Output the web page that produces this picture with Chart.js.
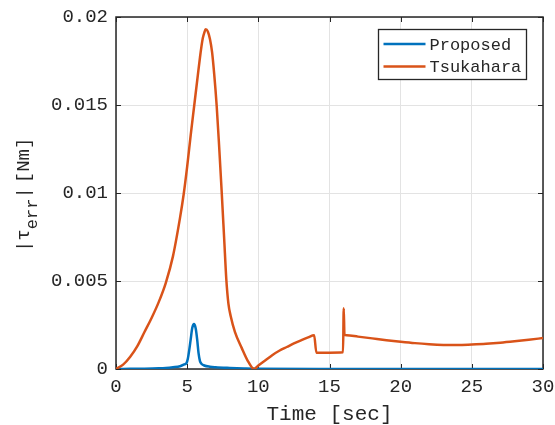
<!DOCTYPE html>
<html>
<head>
<meta charset="utf-8">
<script src="https://cdn.jsdelivr.net/npm/chart.js@4/dist/chart.umd.min.js"></script>
<style>
  html, body { margin: 0; padding: 0; background: #ffffff; }
  #wrap { width: 555px; height: 425px; }
</style>
</head>
<body>
<div id="wrap"><canvas id="chart" width="555" height="425"></canvas></div>
<script>
// Torque error of the two estimators over time
const seriesNames = ['Proposed', 'Tsukahara'];

const timeProposed = [0, 1, 2, 3, 3.5, 4, 4.5, 4.85, 4.95, 5.05, 5.15, 5.25, 5.35, 5.48, 5.6, 5.7, 5.8, 5.9, 6.0, 6.2, 6.6, 7, 8, 9, 10, 15, 20, 25, 30];
const proposed = [0, 0.00001, 0.00002, 0.00004, 0.00006, 0.0001, 0.00016, 0.00028, 0.00033, 0.0006, 0.0011, 0.0017, 0.0023, 0.00255, 0.0023, 0.0017, 0.0009, 0.00045, 0.0003, 0.0002, 0.00013, 0.0001, 0.00006, 0.00003, 0.00001, 0, 0, 0, 0];

const timeTsukahara = [0, 0.5, 1, 1.5, 2, 2.5, 3, 3.5, 4, 4.5, 4.75, 5, 5.25, 5.5, 5.75, 5.9, 6.0, 6.1, 6.2, 6.3, 6.45, 6.6, 6.75, 6.9, 7.07, 7.25, 7.43, 7.6, 7.75, 7.9, 8.06, 8.36, 8.83, 9.3, 9.7,
  10, 10.5, 11, 11.5, 12, 12.5, 13, 13.5, 13.92, 14.08, 15, 15.95, 16.0, 16.05, 16.2, 17, 18, 19, 20, 21, 22, 23, 24, 25, 26, 27, 28, 29, 30];
const tsukahara = [0, 0.00025, 0.0007, 0.0013, 0.0021, 0.0029, 0.0038, 0.0049, 0.0064, 0.0086, 0.0099, 0.0115, 0.0133, 0.015, 0.0167, 0.0177, 0.0183, 0.0188, 0.0191, 0.0193, 0.01918, 0.01875, 0.018, 0.01675, 0.015, 0.0126, 0.01, 0.0074, 0.0051, 0.0037, 0.003, 0.0021, 0.0012, 0.0004, 0,
  0.0002, 0.0005, 0.0008, 0.00105, 0.00125, 0.00145, 0.00163, 0.0018, 0.00192, 0.00092, 0.00093, 0.00095, 0.00345, 0.00195, 0.00192, 0.00184, 0.00174, 0.00164, 0.00155, 0.00147, 0.00141, 0.00137, 0.00136, 0.00139, 0.00143, 0.00149, 0.00157, 0.00166, 0.00176];

const xTicks = [0, 5, 10, 15, 20, 25, 30];
const xTickLabels = ['0', '5', '10', '15', '20', '25', '30'];
const yTicks = [0, 0.005, 0.01, 0.015, 0.02];
const yTickLabels = ['0', '0.005', '0.01', '0.015', '0.02'];

const xTitle = 'Time [sec]';
const colors = ['#0072BD', '#D95319'];
const inkColor = '#262626';
const monoFont = "'Liberation Mono', 'Courier New', monospace";

const toPoints = (xs, ys) => xs.map((x, i) => ({ x: x, y: ys[i] }));

// Box, inward ticks, axis labels and legend drawn around the plot area
const framePlugin = {
  id: 'frame',
  beforeDatasetsDraw(chart) {
    const { ctx, chartArea: a, scales } = chart;
    const tl = 5;
    ctx.save();
    ctx.strokeStyle = inkColor;
    ctx.lineWidth = 1;
    ctx.beginPath();
    xTicks.forEach(v => {
      const px = Math.round(scales.x.getPixelForValue(v)) + 0.5;
      ctx.moveTo(px, a.bottom); ctx.lineTo(px, a.bottom - tl);
      ctx.moveTo(px, a.top); ctx.lineTo(px, a.top + tl);
    });
    yTicks.forEach(v => {
      const py = Math.round(scales.y.getPixelForValue(v)) + 0.5;
      ctx.moveTo(a.left, py); ctx.lineTo(a.left + tl, py);
      ctx.moveTo(a.right, py); ctx.lineTo(a.right - tl, py);
    });
    ctx.stroke();
    ctx.lineWidth = 1.5;
    ctx.strokeRect(a.left, a.top, a.right - a.left, a.bottom - a.top);
    ctx.restore();
  },
  afterDraw(chart) {
    const { ctx, chartArea: a } = chart;
    ctx.save();
    ctx.fillStyle = inkColor;

    // x axis title
    ctx.font = '21px ' + monoFont;
    ctx.textAlign = 'center';
    ctx.textBaseline = 'alphabetic';
    ctx.fillText(xTitle, (a.left + a.right) / 2, 420);

    // y axis title: |tau_err| [Nm]
    ctx.save();
    ctx.translate(29, 252);
    ctx.rotate(-Math.PI / 2);
    ctx.textAlign = 'left';
    const mainFont = '19px ' + monoFont;
    const subFont = '17px ' + monoFont;
    let lx = 0;
    ctx.font = mainFont;
    ctx.fillText('|\u03C4', lx, 0);
    lx += ctx.measureText('|\u03C4').width;
    ctx.font = subFont;
    ctx.fillText('err', lx, 8);
    lx += ctx.measureText('err').width;
    ctx.font = mainFont;
    ctx.fillText('|', lx, 0);
    lx += ctx.measureText('|').width + 4;
    ctx.fillText('[Nm]', lx, 0);
    ctx.restore();

    // legend
    const bx = a.right - 164.5, by = a.top + 12.5, bw = 148, bh = 50;
    ctx.fillStyle = '#ffffff';
    ctx.fillRect(bx, by, bw, bh);
    ctx.strokeStyle = inkColor;
    ctx.lineWidth = 1.3;
    ctx.strokeRect(bx, by, bw, bh);
    ctx.font = '17px ' + monoFont;
    ctx.textAlign = 'left';
    ctx.textBaseline = 'middle';
    seriesNames.forEach((name, i) => {
      const yy = by + 14.5 + i * 22.5;
      ctx.strokeStyle = colors[i];
      ctx.lineWidth = 2.5;
      ctx.beginPath();
      ctx.moveTo(bx + 5, yy);
      ctx.lineTo(bx + 47, yy);
      ctx.stroke();
      ctx.fillStyle = inkColor;
      ctx.fillText(name, bx + 51, yy + 1);
    });
    ctx.restore();
  }
};

new Chart(document.getElementById('chart'), {
  type: 'line',
  data: {
    datasets: [
      {
        label: seriesNames[0],
        data: toPoints(timeProposed, proposed),
        borderColor: colors[0],
        borderWidth: 2.5,
        pointRadius: 0,
        cubicInterpolationMode: 'monotone',
        fill: false,
        order: 1
      },
      {
        label: seriesNames[1],
        data: toPoints(timeTsukahara, tsukahara),
        borderColor: colors[1],
        borderWidth: 2.5,
        pointRadius: 0,
        cubicInterpolationMode: 'monotone',
        fill: false,
        order: 0
      }
    ]
  },
  options: {
    responsive: false,
    animation: false,
    devicePixelRatio: 1,
    layout: { padding: { top: 17, right: 12, left: 0, bottom: 0 } },
    plugins: { legend: { display: false }, tooltip: { enabled: false } },
    scales: {
      x: {
        type: 'linear',
        min: 0,
        max: 30,
        afterBuildTicks: s => { s.ticks = xTicks.map(v => ({ value: v })); },
        afterFit: s => { s.height = 56; s.paddingLeft = 0; s.paddingRight = 0; },
        ticks: {
          callback: (v, i) => xTickLabels[i],
          color: inkColor,
          font: { family: monoFont, size: 19 },
          padding: 7,
          maxRotation: 0,
          autoSkip: false
        },
        grid: { color: '#e3e3e3', lineWidth: 1, drawTicks: false },
        border: { display: false }
      },
      y: {
        type: 'linear',
        min: 0,
        max: 0.02,
        afterBuildTicks: s => { s.ticks = yTicks.map(v => ({ value: v })); },
        afterFit: s => { s.width = 116; s.paddingTop = 0; s.paddingBottom = 0; },
        ticks: {
          callback: (v, i) => yTickLabels[i],
          color: inkColor,
          font: { family: monoFont, size: 19 },
          padding: 8,
          autoSkip: false
        },
        grid: { color: '#e3e3e3', lineWidth: 1, drawTicks: false },
        border: { display: false }
      }
    }
  },
  plugins: [framePlugin]
});
</script>
</body>
</html>
